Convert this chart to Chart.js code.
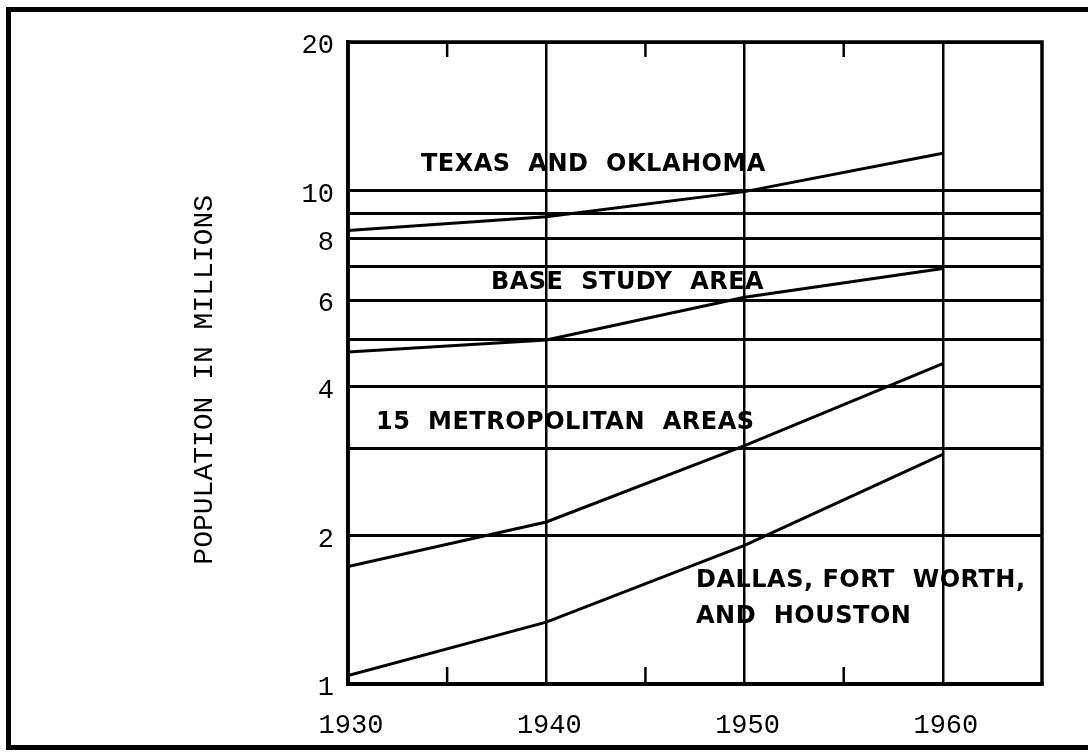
<!DOCTYPE html>
<html>
<head>
<meta charset="utf-8">
<script src="https://cdn.jsdelivr.net/npm/chart.js@4.4.1/dist/chart.umd.min.js"></script>
<style>
  html, body { margin: 0; padding: 0; background: #fff; overflow: hidden; }
  #marco { position: absolute; left: 6px; top: 7px; width: 1100px; height: 733px;
    border-top: 5px solid #000; border-left: 5px solid #000; border-bottom: 5px solid #000; }
  #contenedor { position: absolute; left: 0; top: 0; width: 1088px; height: 753px; }
</style>
</head>
<body>
<div id="marco"></div>
<div id="contenedor"><canvas id="grafico" width="1088" height="753"></canvas></div>
<script>
const anios = [1930, 1940, 1950, 1960];
const texasOklahoma = [8.3, 8.85, 9.95, 11.9];
const areaBase = [4.71, 4.98, 6.08, 6.95];
const metropolitanas = [1.73, 2.13, 3.04, 4.46];
const dallasHouston = [1.04, 1.335, 1.91, 2.92];

const nombresSeries = ['TEXAS  AND  OKLAHOMA', 'BASE  STUDY  AREA', '15  METROPOLITAN  AREAS', 'DALLAS, FORT  WORTH,\nAND  HOUSTON'];

const ticksY = [1, 2, 3, 4, 5, 6, 7, 8, 9, 10, 20];
const etiquetasY = [1, 2, 4, 6, 8, 10, 20];
const ticksX = [1930, 1940, 1950, 1960];
const ticksMenoresX = [1935, 1945, 1955];

// donde va cada rotulo (en unidades del grafico: anio, millones)
const anclasRotulos = [
  { x: 1933.68, y: 11.3 },
  { x: 1937.21, y: 6.5 },
  { x: 1931.41, y: 3.38 },
  { x: 1947.55, y: 1.62 }
];

const series = [texasOklahoma, areaBase, metropolitanas, dallasHouston];

const puntos = valores => anios.map((a, i) => ({ x: a, y: valores[i] }));

const extras = {
  id: 'extras',
  afterDatasetsDraw(chart) {
    const { ctx, chartArea: a, scales } = chart;
    ctx.save();
    ctx.strokeStyle = '#000';
    ctx.lineWidth = 3.5;
    ctx.strokeRect(a.left, a.top, a.right - a.left, a.bottom - a.top);

    // marcas cortas de 1935, 1945, 1955 arriba y abajo
    ctx.lineWidth = 2.5;
    ticksMenoresX.forEach(v => {
      const px = scales.x.getPixelForValue(v);
      ctx.beginPath();
      ctx.moveTo(px, a.top);
      ctx.lineTo(px, a.top + 15);
      ctx.moveTo(px, a.bottom);
      ctx.lineTo(px, a.bottom - 17);
      ctx.stroke();
    });

    ctx.fillStyle = '#000';
    ctx.font = 'bold 24px "DejaVu Sans"';
    ctx.letterSpacing = '0.5px';
    ctx.textAlign = 'left';
    ctx.textBaseline = 'middle';
    nombresSeries.forEach((nombre, i) => {
      const px = scales.x.getPixelForValue(anclasRotulos[i].x);
      const py = scales.y.getPixelForValue(anclasRotulos[i].y);
      nombre.split('\n').forEach((linea, j) => {
        ctx.fillText(linea, px, py + j * 36);
      });
    });
    ctx.restore();
  }
};

const ctx = document.getElementById('grafico').getContext('2d');

new Chart(ctx, {
  type: 'line',
  data: {
    datasets: series.map((valores, i) => ({
      label: nombresSeries[i],
      data: puntos(valores),
      borderColor: '#000',
      borderWidth: 3,
      pointRadius: 0,
      fill: false,
      tension: 0
    }))
  },
  options: {
    responsive: false,
    animation: false,
    devicePixelRatio: 1,
    layout: { padding: { left: 188, top: 42, right: 46, bottom: 0 } },
    plugins: {
      legend: { display: false },
      tooltip: { enabled: false }
    },
    scales: {
      x: {
        type: 'linear',
        min: 1930,
        max: 1965,
        afterBuildTicks: s => { s.ticks = ticksX.map(v => ({ value: v })); },
        afterFit: s => { s.height = 69; },
        border: { color: '#000', width: 3.5 },
        grid: { color: '#000', lineWidth: 2.5, drawTicks: false },
        ticks: {
          color: '#000',
          font: { family: 'Liberation Mono', size: 27 },
          padding: 26,
          labelOffset: 3,
          maxRotation: 0,
          autoSkip: false,
          callback: v => String(v)
        }
      },
      y: {
        type: 'logarithmic',
        min: 1,
        max: 20,
        afterBuildTicks: s => { s.ticks = ticksY.map(v => ({ value: v })); },
        afterFit: s => { s.width = 160; },
        border: { color: '#000', width: 3.5 },
        grid: { color: '#000', lineWidth: 3, drawTicks: false },
        ticks: {
          color: '#000',
          font: { family: 'Liberation Mono', size: 27 },
          padding: 14,
          labelOffset: 4,
          autoSkip: false,
          callback: v => etiquetasY.includes(v) ? String(v) : ''
        },
        title: {
          display: true,
          // los espacios del final bajan un poco el texto, como en el original
          text: 'POPULATION IN MILLIONS  ',
          color: '#000',
          font: { family: 'Liberation Mono', size: 28 },
          padding: 0
        }
      }
    }
  },
  plugins: [extras]
});
</script>
</body>
</html>
